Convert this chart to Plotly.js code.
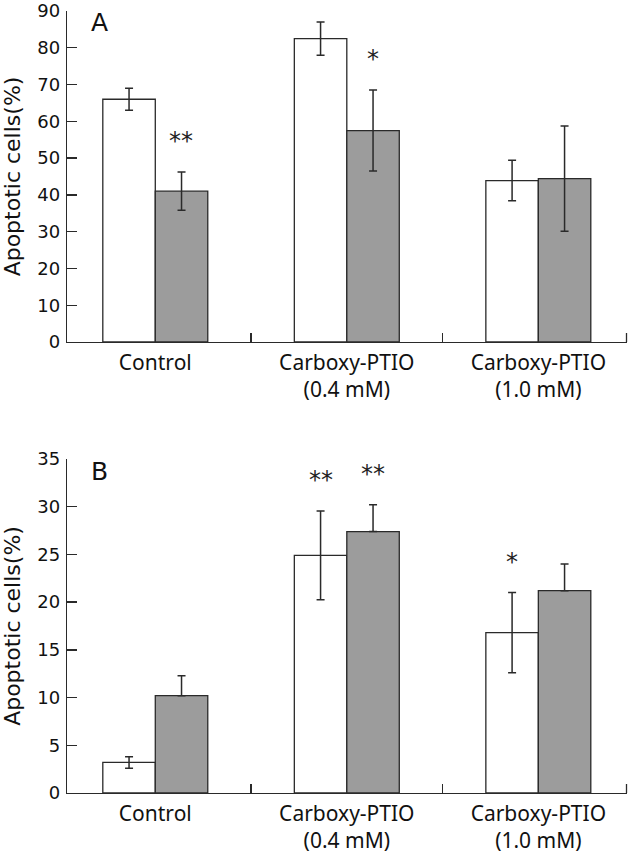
<!DOCTYPE html>
<html>
<head>
<meta charset="utf-8">
<script src="https://cdn.plot.ly/plotly-3.0.1.min.js"></script>
<style>html,body{margin:0;padding:0;background:#fff;}#chart{width:628px;height:853px;}</style>
</head>
<body>
<div id="chart"></div>
<script>
// ---- Data ----
const categories = ["Control", "Carboxy-PTIO<br>(0.4 mM)", "Carboxy-PTIO<br>(1.0 mM)"];

// Panel A
const aWhite = [66.0, 82.5, 43.9];
const aWhiteErr = [3.0, 4.5, 5.5];
const aGrey = [41.0, 57.5, 44.4];
const aGreyErr = [5.2, 11.0, 14.3];
const aWhiteSig = ["", "", ""];
const aGreySig = ["**", "*", ""];

// Panel B
const bWhite = [3.2, 24.9, 16.8];
const bWhiteErr = [0.6, 4.65, 4.2];
const bGrey = [10.2, 27.4, 21.2];
const bGreyErrPlus = [2.1, 2.8, 2.8];
const bGreyErrMinus = [0, 0, 0];
const bWhiteSig = ["", "**", "*"];
const bGreySig = ["", "**", ""];

const panelLabels = ["A", "B"];
const yTitle = "Apoptotic cells(%)";

// ---- Styles ----
const lineCol = "#2a2a2a";
const greyFill = "#9c9c9c";
const fontNum = "DejaVu Sans, sans-serif";
const fontCat = "Noto Sans, sans-serif";
const errStyle = {color: lineCol, thickness: 1.5, width: 4};

function barTrace(y, errPlus, errMinus, fill, xa, ya) {
  const e = Object.assign({type: "data", array: errPlus, visible: true}, errStyle);
  if (errMinus) { e.symmetric = false; e.arrayminus = errMinus; }
  return {
    type: "bar", x: categories, y: y, xaxis: xa, yaxis: ya,
    marker: {color: fill, line: {color: lineCol, width: 1.3}},
    error_y: e, showlegend: false, hoverinfo: "skip"
  };
}

const data = [
  barTrace(aWhite, aWhiteErr, null, "#ffffff", "x", "y"),
  barTrace(aGrey, aGreyErr, null, greyFill, "x", "y"),
  barTrace(bWhite, bWhiteErr, null, "#ffffff", "x2", "y2"),
  barTrace(bGrey, bGreyErrPlus, bGreyErrMinus, greyFill, "x2", "y2")
];

const annotations = [];
function addSig(sig, vals, errs, shift, xref, yref) {
  sig.forEach((s, i) => {
    if (!s) return;
    annotations.push({
      x: categories[i], y: vals[i] + errs[i], xref: xref, yref: yref,
      text: s, showarrow: false, xshift: shift, yshift: 31,
      yanchor: "middle", font: {family: fontNum, size: 24, color: "#222"}
    });
  });
}
addSig(aWhiteSig, aWhite, aWhiteErr, -26, "x", "y");
addSig(aGreySig, aGrey, aGreyErr, 26, "x", "y");
addSig(bWhiteSig, bWhite, bWhiteErr, -26, "x2", "y2");
addSig(bGreySig, bGrey, bGreyErrPlus, 26, "x2", "y2");

annotations.push({xref: "x domain", yref: "y domain", x: 0.04, y: 1.0, yshift: 5, text: panelLabels[0],
  showarrow: false, xanchor: "left", yanchor: "top", font: {family: fontNum, size: 25, color: "#111"}});
annotations.push({xref: "x2 domain", yref: "y2 domain", x: 0.04, y: 1.0, yshift: 4, text: panelLabels[1],
  showarrow: false, xanchor: "left", yanchor: "top", font: {family: fontNum, size: 25, color: "#111"}});

const xBase = {
  type: "category", range: [-0.461, 2.463], showline: true, linecolor: lineCol, linewidth: 1.3,
  ticks: "inside", ticklen: 9, tickcolor: lineCol, tickwidth: 1.3, tickson: "boundaries",
  showgrid: false, zeroline: false, fixedrange: true, ticklabelstandoff: 1,
  tickfont: {family: fontCat, size: 21, color: "#111"}
};
const yBase = {
  showline: true, linecolor: lineCol, linewidth: 1.3, ticks: "inside", ticklen: 10,
  tickcolor: lineCol, tickwidth: 1.3, showgrid: false, zeroline: false, fixedrange: true,
  ticklabeloverflow: "allow", ticklabelstandoff: 2,
  tickfont: {family: fontNum, size: 18, color: "#111"},
  title: {text: yTitle, font: {family: fontNum, size: 22, color: "#111"}, standoff: 11}
};

const layout = {
  width: 628, height: 853,
  margin: {l: 67, r: 1, t: 11, b: 60},
  paper_bgcolor: "#fff", plot_bgcolor: "#fff",
  barmode: "group", bargap: 0.452, bargroupgap: 0,
  xaxis: Object.assign({}, xBase, {anchor: "y", domain: [0, 1]}),
  yaxis: Object.assign({}, yBase, {anchor: "x", domain: [0.5767, 1], range: [0, 90], dtick: 10}),
  xaxis2: Object.assign({}, xBase, {anchor: "y2", domain: [0, 1]}),
  yaxis2: Object.assign({}, yBase, {anchor: "x2", domain: [0, 0.4271], range: [0, 35], dtick: 5}),
  annotations: annotations,
  shapes: [
    {type: "line", xref: "paper", yref: "y domain", line: {color: lineCol, width: 1.3},
     xsizemode: "pixel", ysizemode: "pixel", xanchor: 1, yanchor: 0, x0: -0.5, x1: -0.5, y0: 0, y1: 9},
    {type: "line", xref: "paper", yref: "y2 domain", line: {color: lineCol, width: 1.3},
     xsizemode: "pixel", ysizemode: "pixel", xanchor: 1, yanchor: 0, x0: -0.5, x1: -0.5, y0: 0, y1: 9}
  ]
};

Plotly.newPlot("chart", data, layout, {displayModeBar: false, staticPlot: true});
</script>
</body>
</html>
